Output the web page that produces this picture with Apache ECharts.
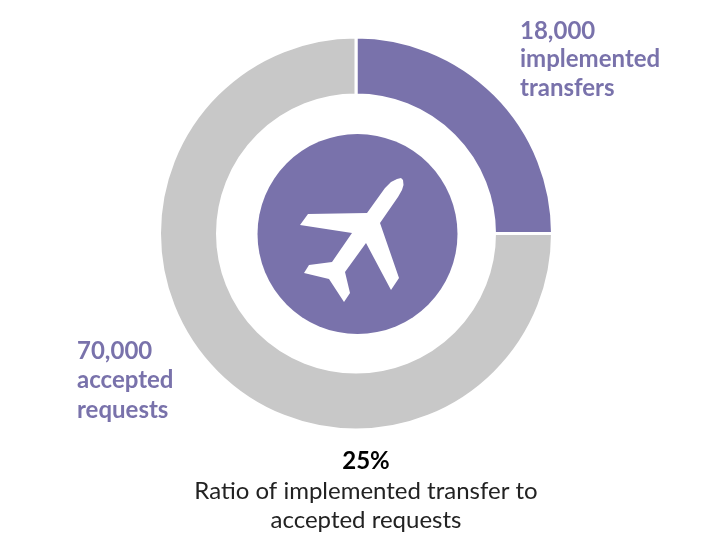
<!DOCTYPE html>
<html>
<head>
<meta charset="utf-8">
<style>
html, body { margin: 0; padding: 0; background: #fff; }
#main { width: 715px; height: 543px; }
</style>
<script src="https://cdn.jsdelivr.net/npm/echarts@6/dist/echarts.min.js"></script>
</head>
<body>
<div id="main"></div>
<script>
// share of each ring segment
var sliceNames = ['implemented transfers', 'other accepted requests'];
var sliceValues = [25, 75];
var sliceColors = ['#7972ab', '#c8c8c8'];

var topLabel = ['18,000', 'implemented', 'transfers'];
var leftLabel = ['70,000', 'accepted', 'requests'];
var ratioValue = '25%';
var ratioLabel = ['Ratio of implemented transfer to', 'accepted requests'];

var fontName = 'Lato, "Open Sans", sans-serif';
var purple = '#7972ab';

// plane icon outline
var planePoints = [
	[367, 213], [385, 188], [391, 182], [397, 179], [401, 178], [403, 180], [403.5, 185], [402, 190], [398, 197],
	[380, 223], [399, 278], [391, 290], [366, 243], [345, 272], [350, 293], [344, 302],
	[329, 279], [304, 273], [309, 265], [332, 262], [352, 233], [300, 225], [308, 214]
];

var dataList = [];
for (var i = 0; i < sliceValues.length; i++) {
	dataList.push({
		name: sliceNames[i],
		value: sliceValues[i],
		itemStyle: { color: sliceColors[i] }
	});
}

var textBlock = function(lines, x, y, step, color, weight, align) {
	var items = [];
	for (var i = 0; i < lines.length; i++) {
		items.push({
			type: 'text',
			x: x,
			y: y + i * step,
			style: {
				text: lines[i],
				fill: color,
				font: weight + ' 24px ' + fontName,
				textAlign: align,
				textVerticalAlign: 'middle'
			}
		});
	}
	return items;
};

var graphicList = [{
	type: 'circle',
	shape: { cx: 357.5, cy: 234, r: 100 },
	style: { fill: purple }
}, {
	type: 'polygon',
	shape: { points: planePoints },
	style: { fill: '#fff' }
}];
graphicList = graphicList
	.concat(textBlock(topLabel, 520, 31, 28.5, purple, 'bold', 'left'))
	.concat(textBlock(leftLabel, 77, 351, 29.5, purple, 'bold', 'left'))
	.concat(textBlock([ratioValue], 366, 461, 29, '#000', 'bold', 'center'))
	.concat(textBlock(ratioLabel, 366, 491, 29, '#222', 'normal', 'center'));

var chart = echarts.init(document.getElementById('main'));
chart.setOption({
	animation: false,
	series: [{
		type: 'pie',
		center: [356, 233.5],
		radius: [138.5, 196.5],
		startAngle: 90,
		silent: true,
		label: { show: false },
		labelLine: { show: false },
		itemStyle: { borderColor: '#fff', borderWidth: 3 },
		data: dataList
	}],
	graphic: graphicList
});
</script>
</body>
</html>
